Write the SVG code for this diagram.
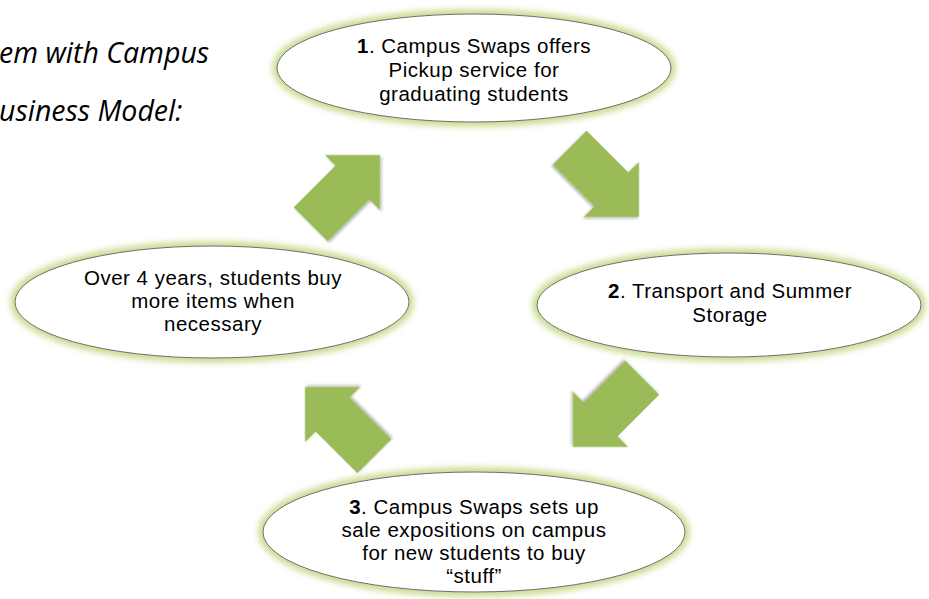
<svg xmlns="http://www.w3.org/2000/svg" xmlns:xlink="http://www.w3.org/1999/xlink" width="929" height="599" viewBox="0 0 929 599">
  <style>
    .glow { fill: none; stroke: #C6DA8C; stroke-width: 9; filter: url(#soft); }
    .oval { fill: #FFFFFF; stroke: #6E6E6E; stroke-width: 1; }
    .label { font-family: "Liberation Sans", Arial, sans-serif; font-size: 20.5px; letter-spacing: 0.5px; fill: #000000; text-anchor: middle; }
    .num { font-weight: bold; }
    .title { font-family: "Open Sans", "Liberation Sans", sans-serif; font-size: 28.5px; font-style: italic; fill: #000000; }
    .arrow { fill: #9BBB59; filter: url(#shadow); }
  </style>
  <defs>
    <filter id="soft" x="-20%" y="-30%" width="140%" height="160%">
      <feGaussianBlur stdDeviation="3"/>
    </filter>
    <filter id="shadow" x="-30%" y="-30%" width="160%" height="160%">
      <feGaussianBlur in="SourceAlpha" stdDeviation="1.5"/>
      <feOffset dx="0" dy="2" result="b"/>
      <feComponentTransfer><feFuncA type="linear" slope="0.3"/></feComponentTransfer>
      <feMerge><feMergeNode/><feMergeNode in="SourceGraphic"/></feMerge>
    </filter>
    <!-- block arrow pointing along +x with its tip at the origin -->
    <polygon id="blockArrow" points="0,0 -39,-39 -39,-24 -98,-24 -98,24 -39,24 -39,39"/>
  </defs>

  <!-- heading, clipped at the left page edge -->
  <text class="title" x="-1" y="63">em with Campus</text>
  <text class="title" x="-1" y="121">usiness Model:</text>

  <!-- cycle connectors -->
  <g id="connectors">
    <use xlink:href="#blockArrow" class="arrow" transform="translate(380,155) rotate(-45)"/>
    <use xlink:href="#blockArrow" class="arrow" transform="translate(639,217) rotate(45)"/>
    <use xlink:href="#blockArrow" class="arrow" transform="translate(573,447) rotate(135)"/>
    <use xlink:href="#blockArrow" class="arrow" transform="translate(305,387) rotate(-135)"/>
  </g>

  <g id="step1">
    <ellipse class="glow" cx="474" cy="68" rx="197" ry="54"/>
    <ellipse class="oval" cx="474" cy="68" rx="197" ry="54"/>
    <text class="label" x="474" y="53"><tspan class="num">1</tspan>. Campus Swaps offers</text>
    <text class="label" x="474" y="77">Pickup service for</text>
    <text class="label" x="474" y="101">graduating students</text>
  </g>

  <g id="step2">
    <ellipse class="glow" cx="729" cy="305" rx="192" ry="52"/>
    <ellipse class="oval" cx="729" cy="305" rx="192" ry="52"/>
    <text class="label" x="730" y="298"><tspan class="num">2</tspan>. Transport and Summer</text>
    <text class="label" x="730" y="322">Storage</text>
  </g>

  <g id="step3">
    <ellipse class="glow" cx="474" cy="532" rx="211" ry="60"/>
    <ellipse class="oval" cx="474" cy="532" rx="211" ry="60"/>
    <text class="label" x="474" y="514"><tspan class="num">3</tspan>. Campus Swaps sets up</text>
    <text class="label" x="474" y="537">sale expositions on campus</text>
    <text class="label" x="474" y="560">for new students to buy</text>
    <text class="label" x="474" y="583">“stuff”</text>
  </g>

  <g id="step4">
    <ellipse class="glow" cx="212" cy="302" rx="197" ry="56"/>
    <ellipse class="oval" cx="212" cy="302" rx="197" ry="56"/>
    <text class="label" x="213" y="285">Over 4 years, students buy</text>
    <text class="label" x="213" y="308">more items when</text>
    <text class="label" x="213" y="331">necessary</text>
  </g>
</svg>
